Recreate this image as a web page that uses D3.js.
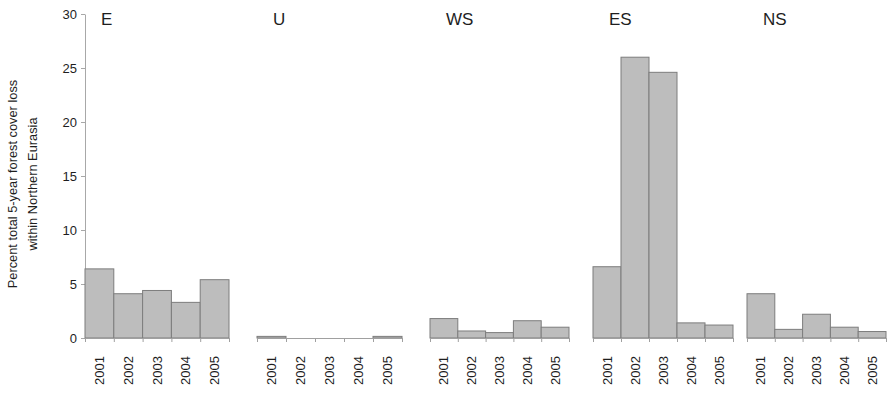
<!DOCTYPE html>
<html lang="en">
<head>
<meta charset="utf-8">
<title>Forest cover loss</title>
<style type="text/css">
    body { margin: 0; background: #fff; }
    svg text { font-family: "Liberation Sans", Arial, sans-serif; fill: #1e1e1e; }
</style>
<script type="text/javascript" src="https://d3js.org/d3.v7.min.js"></script>
</head>
<body>
<script type="text/javascript">
    var years = ["2001", "2002", "2003", "2004", "2005"];
    var regions = ["E", "U", "WS", "ES", "NS"];
    var lossE  = [6.4, 4.1, 4.4, 3.3, 5.4];
    var lossU  = [0.15, 0, 0, 0, 0.15];
    var lossWS = [1.8, 0.65, 0.5, 1.6, 1.0];
    var lossES = [6.6, 26.0, 24.6, 1.4, 1.2];
    var lossNS = [4.1, 0.8, 2.2, 1.0, 0.6];
    var yTicks = [0, 5, 10, 15, 20, 25, 30];
    var series = [lossE, lossU, lossWS, lossES, lossNS];

    var w = 887, h = 393;
    // left edge and width of each panel
    var panelLeft = [85, 257, 430, 593, 747];
    var panelWidth = [144, 145, 139, 140, 139];

    var svg = d3.select("body").append("svg")
        .attr("width", w)
        .attr("height", h);

    var y = d3.scaleLinear().domain([0, 30]).range([338, 14]);

    // y axis on the first panel
    var yAxis = svg.append("g")
        .attr("transform", "translate(" + panelLeft[0] + ",0)")
        .call(d3.axisLeft(y).tickValues(yTicks).tickSizeInner(4).tickSizeOuter(0).tickPadding(4));
    yAxis.selectAll("path, line").attr("stroke", "#a8a8a8");
    yAxis.selectAll("text").style("font-size", "13px");

    svg.append("text")
        .attr("transform", "translate(17,184) rotate(-90)")
        .attr("text-anchor", "middle")
        .style("font-size", "12.8px")
        .text("Percent total 5-year forest cover loss");
    svg.append("text")
        .attr("transform", "translate(37,184) rotate(-90)")
        .attr("text-anchor", "middle")
        .style("font-size", "12.8px")
        .text("within Northern Eurasia");

    regions.forEach(function (r, k) {
        var x0 = panelLeft[k], pw = panelWidth[k];
        var x = d3.scaleBand().domain(years).range([x0, x0 + pw]).padding(0);
        var g = svg.append("g");

        g.selectAll("rect")
            .data(series[k])
            .enter()
            .append("rect")
            .attr("x", function (d, i) { return x(years[i]); })
            .attr("y", function (d) { return y(d); })
            .attr("width", x.bandwidth())
            .attr("height", function (d) { return y(0) - y(d); })
            .attr("fill", "#bdbdbd")
            .attr("stroke", "#7d7d7d")
            .attr("stroke-width", 1);

        // tick marks at band boundaries
        var edge = d3.scaleLinear().domain([0, years.length]).range([x0, x0 + pw]);
        var xAxis = g.append("g")
            .attr("transform", "translate(0," + y(0) + ")")
            .call(d3.axisBottom(edge).tickValues(d3.range(years.length + 1))
                .tickFormat("").tickSizeInner(4).tickSizeOuter(0));
        xAxis.selectAll("path, line").attr("stroke", "#a0a0a0");

        g.selectAll("text.year")
            .data(years)
            .enter()
            .append("text")
            .attr("class", "year")
            .attr("transform", function (d) {
                return "translate(" + (x(d) + x.bandwidth() / 2) + ",356) rotate(-90)";
            })
            .attr("text-anchor", "end")
            .attr("dy", "0.35em")
            .style("font-size", "13px")
            .text(function (d) { return d; });

        g.append("text")
            .attr("x", x0 + 16)
            .attr("y", 25)
            .style("font-size", "17px")
            .text(r);
    });
</script>
</body>
</html>
